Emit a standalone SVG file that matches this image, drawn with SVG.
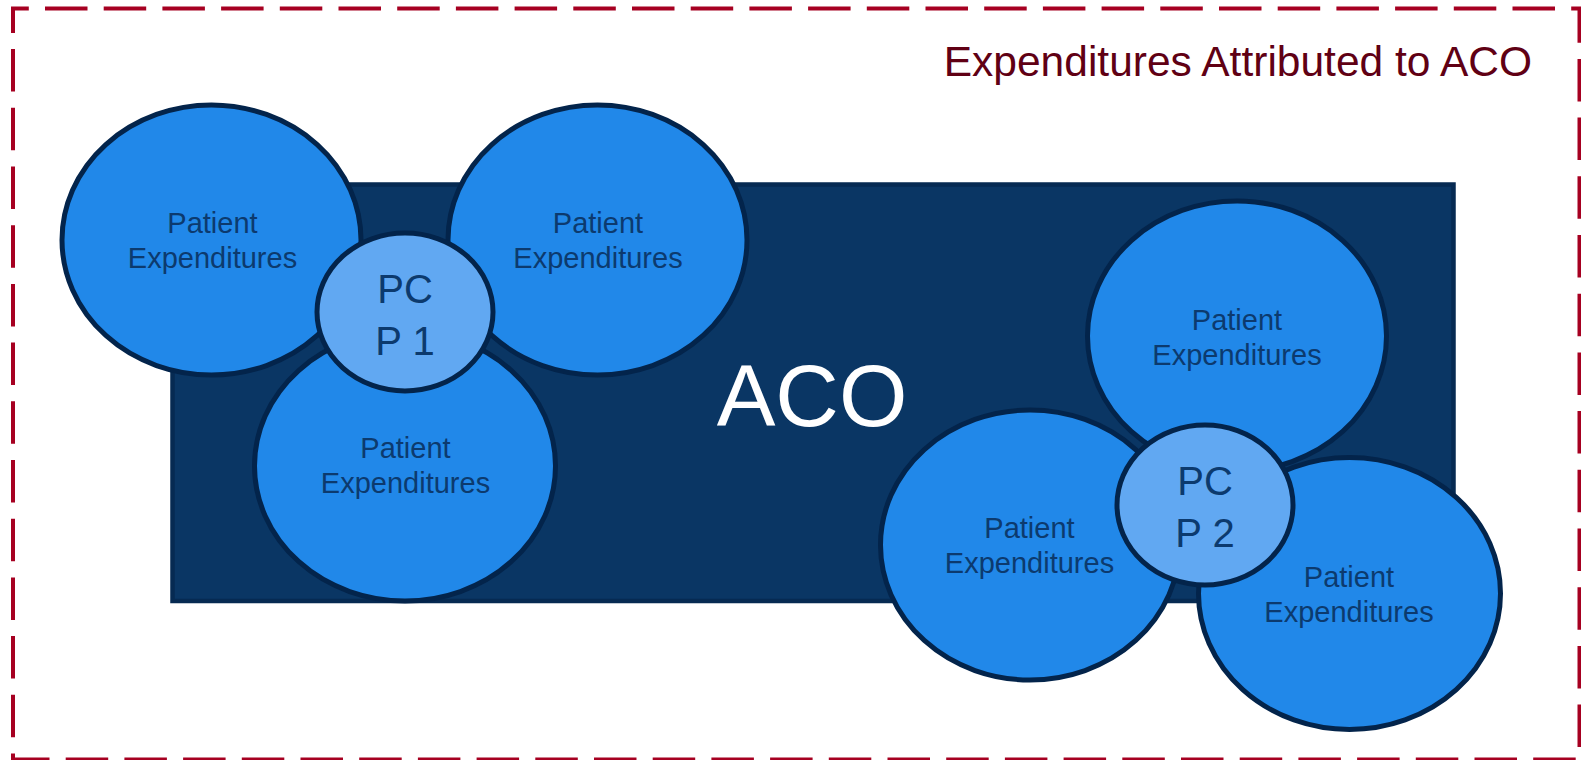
<svg xmlns="http://www.w3.org/2000/svg" width="1581" height="760" viewBox="0 0 1581 760">
<style>
.pe{fill:#2188e9;stroke:#03244b;stroke-width:5}
.pcp{fill:#61a8f2;stroke:#03244b;stroke-width:5}
.pet{font-family:"Liberation Sans",Arial,sans-serif;font-size:29px;fill:#0c3a6e;text-anchor:middle}
.pct{font-family:"Liberation Sans",Arial,sans-serif;font-size:40px;fill:#0c3a6e;text-anchor:middle}
</style>
<rect width="1581" height="760" fill="#ffffff"/>
<g id="boundary">
<rect x="13" y="8.5" width="1566.5" height="751" fill="none" stroke="#a60021" stroke-width="4" stroke-dasharray="42.5 16.2" stroke-dashoffset="26.7"/>
<text x="1532" y="76" font-family="'Liberation Sans',Arial,sans-serif" font-size="42.5" fill="#600014" text-anchor="end">Expenditures Attributed to ACO</text>
</g>
<g id="aco">
<rect x="172.5" y="184.5" width="1281" height="416.5" fill="#0a3664" stroke="#062a52" stroke-width="4.5"/>
<text x="812" y="426" font-family="'Liberation Sans',Arial,sans-serif" font-size="88" fill="#ffffff" text-anchor="middle">ACO</text>
</g>
<g id="pe1"><ellipse class="pe" cx="211.5" cy="240" rx="149.5" ry="135"/><text class="pet" x="212.5" y="233">Patient</text><text class="pet" x="212.5" y="268">Expenditures</text></g>
<g id="pe2"><ellipse class="pe" cx="597.5" cy="240" rx="149.5" ry="135"/><text class="pet" x="598" y="233">Patient</text><text class="pet" x="598" y="268">Expenditures</text></g>
<g id="pe3"><ellipse class="pe" cx="405" cy="466" rx="150.5" ry="135"/><text class="pet" x="405.5" y="458">Patient</text><text class="pet" x="405.5" y="493">Expenditures</text></g>
<g id="pcp1"><ellipse class="pcp" cx="405" cy="312" rx="88" ry="79"/><text class="pct" x="405" y="302.5">PC</text><text class="pct" x="405" y="355">P 1</text></g>
<g id="pe4"><ellipse class="pe" cx="1237" cy="336" rx="149.5" ry="135"/><text class="pet" x="1237" y="330">Patient</text><text class="pet" x="1237" y="365">Expenditures</text></g>
<g id="pe5"><ellipse class="pe" cx="1030" cy="545" rx="149.5" ry="135"/><text class="pet" x="1029.5" y="538">Patient</text><text class="pet" x="1029.5" y="573">Expenditures</text></g>
<g id="pe6"><ellipse class="pe" cx="1349.5" cy="593.5" rx="151" ry="136"/><text class="pet" x="1349" y="587">Patient</text><text class="pet" x="1349" y="622">Expenditures</text></g>
<g id="pcp2"><ellipse class="pcp" cx="1205" cy="505" rx="88" ry="80"/><text class="pct" x="1205" y="495">PC</text><text class="pct" x="1205" y="547">P 2</text></g>
<g id="connectors"></g>
</svg>
